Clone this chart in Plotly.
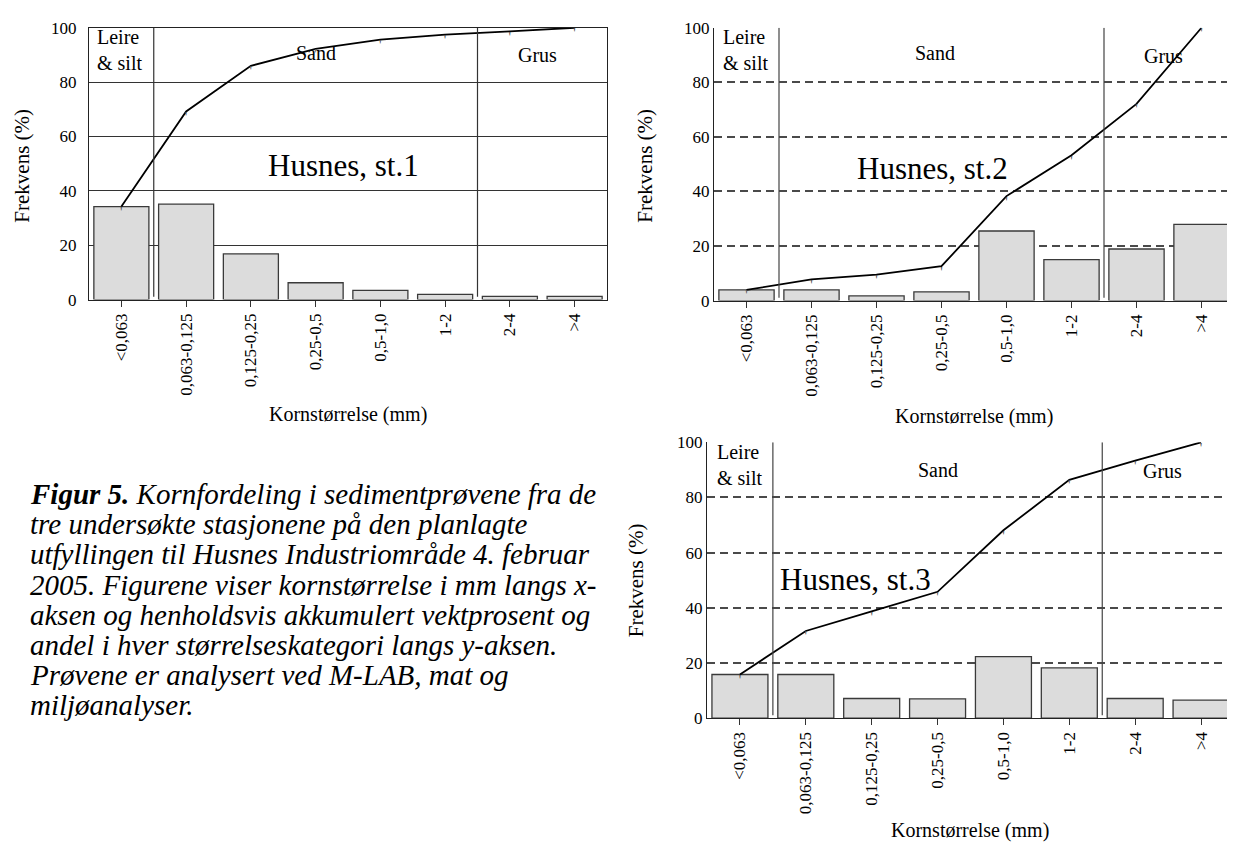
import plotly.graph_objects as go

# ---------------- data ----------------
categories = ["&lt;0,063", "0,063-0,125", "0,125-0,25", "0,25-0,5",
              "0,5-1,0", "1-2", "2-4", "&gt;4"]
y_ticks = [0, 20, 40, 60, 80, 100]

st1_share = [34.2, 35.1, 16.8, 6.2, 3.4, 1.9, 1.2, 1.2]
st1_cum = [34.2, 69.2, 86.0, 92.2, 95.6, 97.5, 98.7, 100.0]
st2_share = [3.9, 3.9, 1.7, 3.2, 25.5, 15.0, 18.9, 27.9]
st2_cum = [3.9, 7.8, 9.5, 12.6, 38.3, 53.3, 72.1, 100.0]
st3_share = [15.8, 15.8, 7.1, 7.0, 22.3, 18.2, 7.1, 6.5]
st3_cum = [15.8, 31.6, 38.7, 45.8, 68.1, 86.4, 93.4, 100.0]

station_titles = ["Husnes, st.1", "Husnes, st.2", "Husnes, st.3"]
group_labels = ["Leire<br>& silt", "Sand", "Grus"]
group_bounds = [0.5, 5.5]

caption_lines = [
    "<b>Figur 5.</b> Kornfordeling i sedimentprøvene fra de",
    "tre undersøkte stasjonene på den planlagte",
    "utfyllingen til Husnes Industriområde 4. februar",
    "2005. Figurene viser kornstørrelse i mm langs x-",
    "aksen og henholdsvis akkumulert vektprosent og",
    "andel i hver størrelseskategori langs y-aksen.",
    "Prøvene er analysert ved M-LAB, mat og",
    "miljøanalyser.",
]

# ---------------- layout geometry ----------------
W, H = 1235, 856
OFF = 8  # default page body margin
FONT = "Liberation Serif, Times New Roman, serif"


def fx(px):
    return (px - OFF) / W


def fy(py):
    return 1 - (py - OFF) / H


panels = [
    dict(share=st1_share, cum=st1_cum, title=station_titles[0],
         px=(89, 607), py=(19, 297), dashed=False,
         title_pos=(3.43, 49.3), leire=(-0.40, 99.5), sand=(3.0, 90.8), grus=(6.42, 89.8),
         xtitle=(348, 415), ytitle=(22, 160), standoff=8),
    dict(share=st2_share, cum=st2_cum, title=station_titles[1],
         px=(714, 1234), py=(19, 298), dashed=True,
         title_pos=(2.86, 48.5), leire=(-0.40, 99.5), sand=(2.9, 90.8), grus=(6.42, 89.8),
         xtitle=(974, 417), ytitle=(645, 160), standoff=0),
    dict(share=st3_share, cum=st3_cum, title=station_titles[2],
         px=(707, 1234), py=(443, 725), dashed=True,
         title_pos=(1.75, 50.3), leire=(-0.38, 99.5), sand=(3.0, 90.0), grus=(6.42, 89.6),
         xtitle=(970, 840), ytitle=(636, 584), standoff=0),
]

fig = go.Figure()
layout = dict(
    width=W, height=H,
    margin=dict(l=0, r=0, t=0, b=0),
    paper_bgcolor="white", plot_bgcolor="white",
    showlegend=False,
    font=dict(family=FONT, color="black", size=17),
)
annotations = []
shapes = []

for i, p in enumerate(panels, start=1):
    xa = "x" if i == 1 else f"x{i}"
    ya = "y" if i == 1 else f"y{i}"
    xkey = "xaxis" if i == 1 else f"xaxis{i}"
    ykey = "yaxis" if i == 1 else f"yaxis{i}"

    fig.add_trace(go.Bar(
        x=categories, y=p["share"], xaxis=xa, yaxis=ya,
        marker=dict(color="#dcdcdc", line=dict(color="#3a3a3a", width=1.3)),
        width=0.85,
    ))
    fig.add_trace(go.Scatter(
        x=categories, y=p["cum"], xaxis=xa, yaxis=ya, mode="lines+text",
        line=dict(color="black", width=1.8),
        text=["'"] * len(categories), textposition="bottom center",
        textfont=dict(family=FONT, size=14, color="#555"),
    ))

    x0, x1 = p["px"]
    y0, y1 = p["py"]
    layout[xkey] = dict(
        domain=[fx(x0), fx(x1)], anchor=ya,
        range=[-0.5, 7.5], type="category",
        showline=True, linecolor="#222", linewidth=1.3,
        mirror=not p["dashed"],
        ticks="outside", ticklen=6, tickcolor="#333", tickwidth=1,
        tickangle=-90, tickfont=dict(family=FONT, size=17, color="black"),
        showgrid=False, zeroline=False, fixedrange=True,
    )
    layout[ykey] = dict(
        domain=[fy(y1), fy(y0)], anchor=xa,
        range=[0, 100], tickvals=y_ticks,
        showline=True, linecolor="#222", linewidth=1.3, mirror=True,
        ticks="", ticklabelstandoff=p["standoff"],
        tickfont=dict(family=FONT, size=17, color="black"),
        showgrid=True,
        gridcolor="#4a4a4a" if p["dashed"] else "#333",
        gridwidth=1.5 if p["dashed"] else 1.2,
        griddash="8px,5px" if p["dashed"] else "solid",
        zeroline=False, fixedrange=True,
    )

    # group boundary lines
    for b in group_bounds:
        shapes.append(dict(type="line", xref=xa, yref=ya, x0=b, x1=b, y0=1, y1=100,
                           line=dict(color="#333" if not p["dashed"] else "#444", width=1.2)))

    # group labels
    annotations.append(dict(xref=xa, yref=ya, x=p["leire"][0], y=p["leire"][1], yshift=5,
                            text=group_labels[0], showarrow=False, xanchor="left", yanchor="top",
                            align="left", font=dict(family=FONT, size=20, color="black")))
    annotations.append(dict(xref=xa, yref=ya, x=p["sand"][0], y=p["sand"][1],
                            text=group_labels[1], showarrow=False, xanchor="center", yanchor="middle",
                            font=dict(family=FONT, size=20, color="black")))
    annotations.append(dict(xref=xa, yref=ya, x=p["grus"][0], y=p["grus"][1],
                            text=group_labels[2], showarrow=False, xanchor="center", yanchor="middle",
                            font=dict(family=FONT, size=20, color="black")))
    # station title
    annotations.append(dict(xref=xa, yref=ya, x=p["title_pos"][0], y=p["title_pos"][1],
                            text=p["title"], showarrow=False, xanchor="center", yanchor="middle",
                            font=dict(family=FONT, size=31, color="black")))
    # axis titles
    annotations.append(dict(xref="paper", yref="paper", x=fx(p["xtitle"][0]), y=fy(p["xtitle"][1]),
                            text="Kornstørrelse (mm)", showarrow=False, xanchor="center", yanchor="middle",
                            font=dict(family=FONT, size=20, color="black")))
    annotations.append(dict(xref="paper", yref="paper", x=fx(p["ytitle"][0]), y=fy(p["ytitle"][1]),
                            text="Frekvens (%)", textangle=-90, showarrow=False,
                            xanchor="center", yanchor="middle",
                            font=dict(family=FONT, size=21, color="black")))

# caption
for k, line in enumerate(caption_lines):
    annotations.append(dict(xref="paper", yref="paper", x=fx(28), y=fy(496 + k * 30.8),
                            text=f"<i>{line}</i>", showarrow=False, xanchor="left", yanchor="middle",
                            align="left", font=dict(family=FONT, size=29, color="black")))

layout["annotations"] = annotations
layout["shapes"] = shapes
fig.update_layout(**layout)
fig.write_html("out.html")
